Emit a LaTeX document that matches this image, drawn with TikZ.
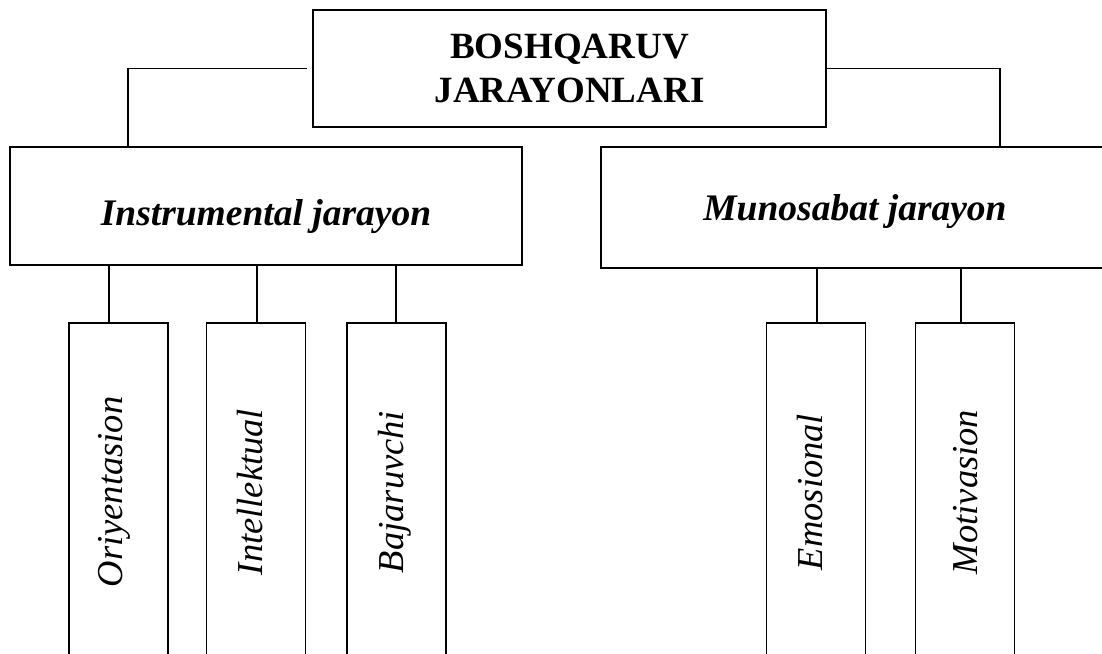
\documentclass[tikz,border=0pt]{standalone}
\usepackage{fontspec}
\setmainfont{Liberation Serif}
\usetikzlibrary{calc}
\begin{document}
\begin{tikzpicture}[x=1pt,y=-1pt,
  box/.style={draw, line width=1.8pt, rectangle, inner sep=0pt, outer sep=0pt},
  topbox/.style={box, align=center, font=\fontsize{37}{44}\selectfont\bfseries},
  midbox/.style={box, font=\fontsize{37.5}{44}\selectfont\bfseries\itshape},
  leafbox/.style={box, rotate=90, minimum width=338pt, minimum height=99pt,
    font=\fontsize{36.5}{44}\selectfont\itshape, text height=20pt, text depth=7pt},
  link/.style={draw, line width=1.8pt}
]
\useasboundingbox (0,0) rectangle (1102,653);
\begin{scope}
\clip (0,0) rectangle (1102,653);

\node[topbox, minimum width=513pt, minimum height=117pt] (top) at (569.5,68.5)
  {BOSHQARUV\\JARAYONLARI};
\node[midbox, minimum width=512pt, minimum height=118pt, text height=38pt, text depth=0pt]
  (instr) at (266,206) {Instrumental jarayon};
\node[midbox, minimum width=508pt, minimum height=121pt, text height=25pt, text depth=0pt]
  (muno) at (855,207.5) {Munosabat jarayon};

\node[leafbox, text height=14pt] (c1) at (118.5,492) {Oriyentasion};
\node[leafbox] (c2) at (256,492) {Intellektual};
\node[leafbox] (c3) at (396.5,492) {Bajaruvchi};
\node[leafbox] (c4) at (816,492) {Emosional};
\node[leafbox, text height=31pt] (c5) at (965,492) {Motivasion};

% top connectors
\draw[link] ($(top.west)+(-6,0)$) -| ($(instr.north west)+(118,0)$);
\draw[link] (top.east) -| ($(muno.north west)+(399,0)$);

% leaf connectors
\path (c1.east) ++(-9.5,0) coordinate (k1);
\path (c2.east) ++(1,0) coordinate (k2);
\path (c3.east) ++(-0.5,0) coordinate (k3);
\path (c4.east) ++(1,0) coordinate (k4);
\path (c5.east) ++(-4,0) coordinate (k5);
\draw[link] (k1 |- instr.south) -- (k1);
\draw[link] (k2 |- instr.south) -- (k2);
\draw[link] (k3 |- instr.south) -- (k3);
\draw[link] (k4 |- muno.south) -- (k4);
\draw[link] (k5 |- muno.south) -- (k5);
\end{scope}
\end{tikzpicture}
\end{document}
